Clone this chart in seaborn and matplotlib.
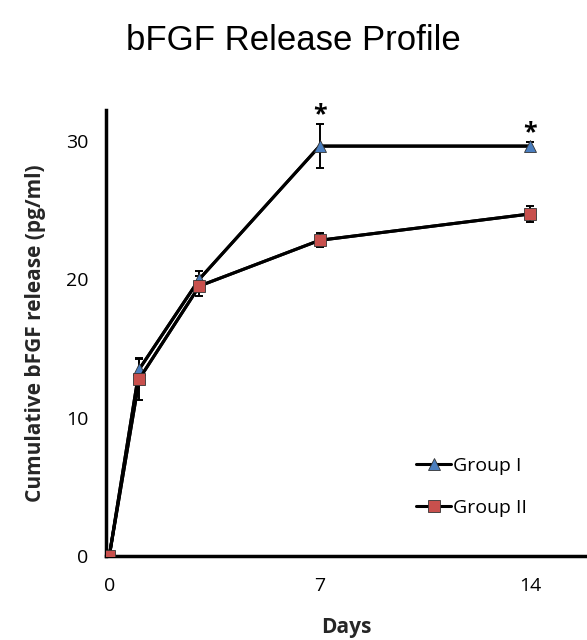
import pandas as pd
import numpy as np
import matplotlib
matplotlib.use("Agg")
import matplotlib.pyplot as plt
import seaborn as sns

days = [0, 1, 3, 7, 14]
group1 = [0, 13.5, 20.0, 29.6, 29.6]
group1_err = [0, 0.7, 0.6, 1.6, 0.3]
group2 = [0, 12.8, 19.5, 22.8, 24.7]
group2_err = [0, 1.5, 0.7, 0.5, 0.6]
star_days = [7, 14]
star_y = [31.0, 29.7]

sns.set_style("white")
plt.rcParams['font.family'] = ['Open Sans', 'DejaVu Sans']
plt.rcParams['text.color'] = 'black'

df = pd.DataFrame({
    "Days": days * 2,
    "Release": group1 + group2,
    "Group": ["Group I"] * len(days) + ["Group II"] * len(days),
})

fig = plt.figure(figsize=(5.87, 6.40), dpi=100)
ax = fig.add_axes([0.181, 0.131, 0.819, 0.697])

colors = {"Group I": "#4a7ebf", "Group II": "#c8504d"}
sns.lineplot(data=df, x="Days", y="Release", hue="Group", style="Group",
             markers={"Group I": "^", "Group II": "s"}, dashes=False,
             palette={"Group I": "black", "Group II": "black"},
             markersize=0, linewidth=2.2, ax=ax, legend=False)

# error bars and coloured markers
for vals, errs, name, mk, ms in [(group1, group1_err, "Group I", "^", 9),
                                 (group2, group2_err, "Group II", "s", 8)]:
    ax.errorbar(days, vals, yerr=errs, fmt="none", ecolor="black",
                elinewidth=1.4, capsize=3, capthick=1.4, zorder=3)
    ax.plot(days, vals, linestyle="-", color="black", lw=2.2,
            marker=mk, markersize=ms, markerfacecolor=colors[name],
            markeredgecolor="#333333", markeredgewidth=0.6, label=name, zorder=4)

for d, y in zip(star_days, star_y):
    ax.text(d, y, "*", ha="center", va="bottom", fontsize=18, fontweight="bold")

ax.set_xlim(-0.1, 15.9)
ax.set_ylim(0, 32.2)
ax.set_xticks([0, 7, 14])
ax.set_yticks([0, 10, 20, 30])
ax.tick_params(axis="both", direction="out", length=5, width=1.5,
               labelsize=14, colors="black", pad=8)
ax.tick_params(axis="x", pad=10)
for s in ["top", "right"]:
    ax.spines[s].set_visible(False)
for s in ["left", "bottom"]:
    ax.spines[s].set_linewidth(2.5)
    ax.spines[s].set_color("black")

ax.set_xlabel("Days", fontsize=15, fontweight="bold", labelpad=16)
ax.set_ylabel("Cumulative bFGF release (pg/ml)", fontsize=15,
              fontweight="bold", labelpad=14)

leg = ax.legend(loc="upper left", bbox_to_anchor=(0.625, 0.245), frameon=False,
                fontsize=14, handlelength=1.8, handletextpad=0.1,
                labelspacing=1.25, borderpad=0)

fig.text(0.5, 0.937, "bFGF Release Profile", ha="center", va="center",
         fontsize=25, color="black", family=["Liberation Sans", "DejaVu Sans"])

fig.savefig("out.png", dpi=100)
